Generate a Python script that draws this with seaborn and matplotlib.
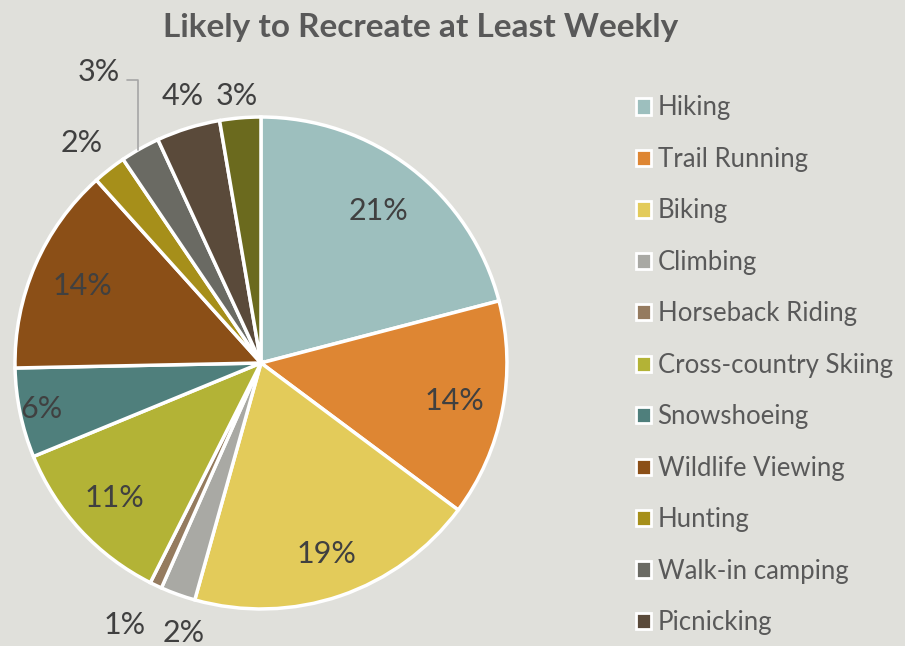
import matplotlib
matplotlib.use("Agg")
import matplotlib.pyplot as plt
from matplotlib.patches import Patch
import numpy as np
import seaborn as sns

# ── Data ──────────────────────────────────────────────────────────────────
activities = [
    "Hiking", "Trail Running", "Biking", "Climbing", "Horseback Riding",
    "Cross-country Skiing", "Snowshoeing", "Wildlife Viewing", "Hunting",
    "Walk-in camping", "Picnicking", "Other",
]
shares = [21.0, 14.3, 19.2, 2.3, 0.8, 11.4, 5.9, 13.7, 2.2, 2.6, 4.2, 2.7]
colors = [
    "#9DBFBE", "#DE8633", "#E3CB5A", "#A9A9A4", "#957B5F", "#B3B336",
    "#4F7F7C", "#8B4F17", "#A68F1A", "#6A6A63", "#5A4A3A", "#6B6A1E",
]
n_legend = 11   # legend in the original is cut after Picnicking

# label placement (radius factor for inside labels, explicit spot for small ones)
inside_r = {0: 0.78, 1: 0.80, 2: 0.82, 5: 0.81, 6: 0.91, 7: 0.79}
outside_xy = {3: (-0.313, -1.098), 4: (-0.553, -1.065), 8: (-0.728, 0.894),
              9: (-0.659, 1.183), 10: (-0.317, 1.085), 11: (-0.098, 1.085)}

BG = "#E0E0DB"
sns.set_theme(style="white")
plt.rcParams["font.family"] = ["Lato", "DejaVu Sans"]

fig = plt.figure(figsize=(9.05, 6.46), dpi=100, facecolor=BG)
ax = fig.add_axes([0.01657, 0.0573, 0.5436, 0.7616])
ax.set_facecolor(BG)

wedges, _ = ax.pie(
    shares, colors=colors, startangle=90, counterclock=False,
    wedgeprops=dict(edgecolor="white", linewidth=2.5),
)
ax.set_xlim(-1, 1)
ax.set_ylim(-1, 1)
ax.set_aspect("equal")
ax.axis("off")

for i, (w, v) in enumerate(zip(wedges, shares)):
    label = f"{round(v):.0f}%"
    if i in inside_r:
        ang = np.deg2rad((w.theta1 + w.theta2) / 2)
        r = inside_r[i]
        x, y = r * np.cos(ang), r * np.sin(ang)
    else:
        x, y = outside_xy[i]
    ax.text(x, y, label, ha="center", va="center", fontsize=22,
            color="#404040", clip_on=False)

# leader line for the Walk-in camping label
ax.plot([-0.545, -0.500, -0.500], [1.150, 1.150, 0.865],
        color="#A6A6A6", lw=1.2, clip_on=False)

fig.text(0.465, 0.958, "Likely to Recreate at Least Weekly", ha="center",
         va="center", fontsize=24, fontweight="bold", color="#595959")

handles = [Patch(facecolor=c, edgecolor="white", linewidth=2)
           for c in colors[:n_legend]]
leg = fig.legend(
    handles, activities[:n_legend], loc="upper left",
    bbox_to_anchor=(0.677, 0.888), frameon=False, fontsize=18.5,
    handlelength=0.6, handleheight=0.6, handletextpad=0.25,
    labelspacing=1.03, labelcolor="#595959",
)

fig.savefig("out.png", dpi=100, facecolor=BG)
